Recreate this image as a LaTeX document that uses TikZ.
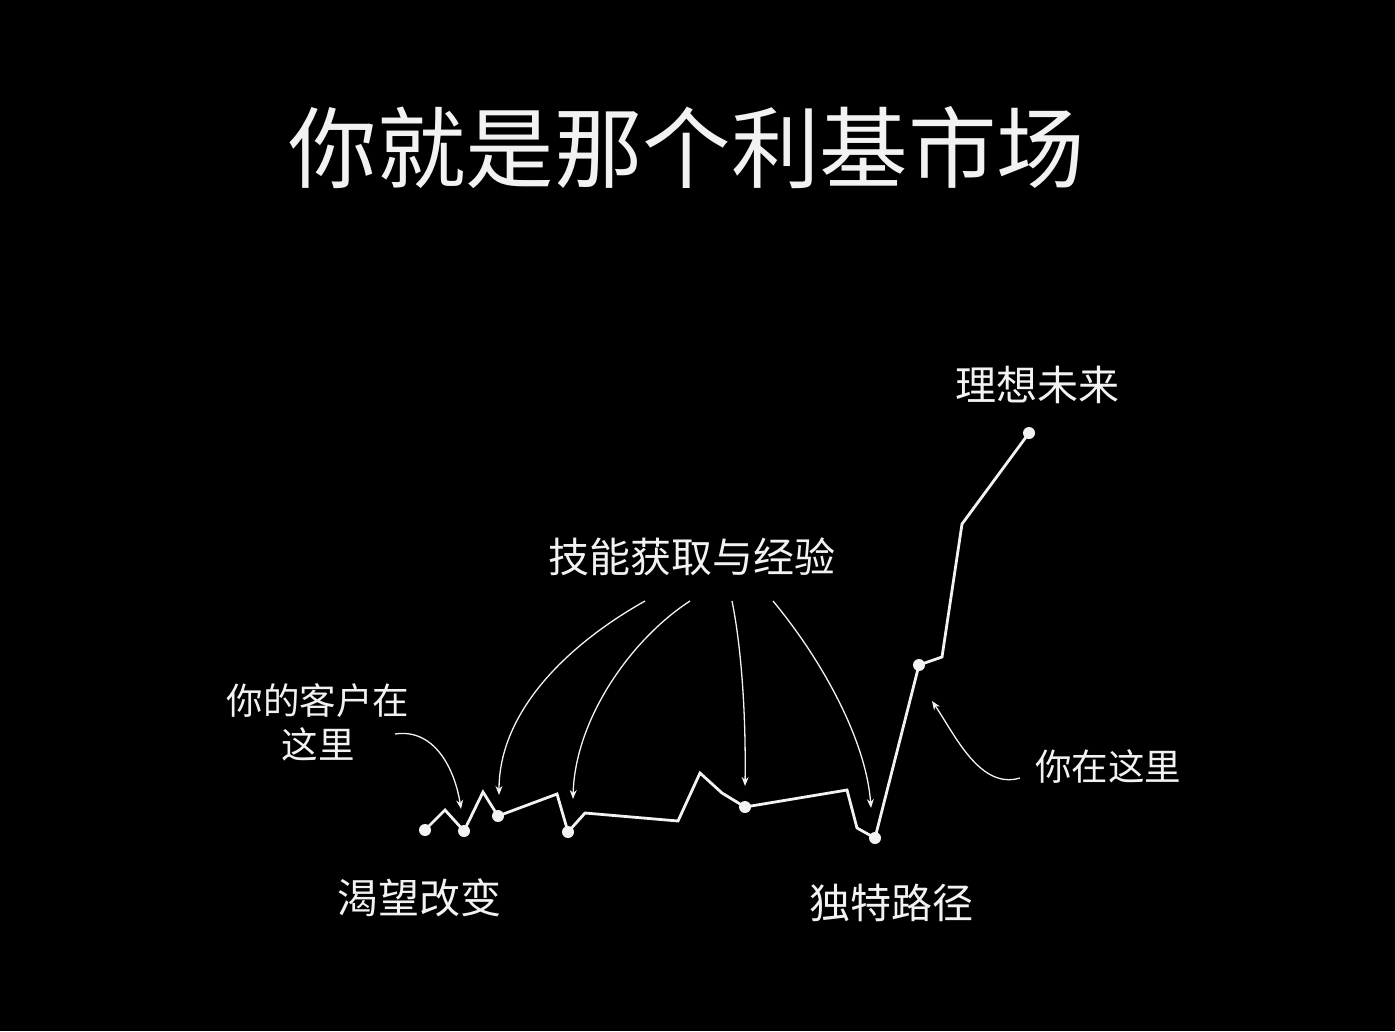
\documentclass[tikz,border=0pt]{standalone}
\usepackage{fontspec}
\setmainfont{Noto Sans CJK SC}
\usetikzlibrary{arrows.meta}
\definecolor{ink}{HTML}{F2F2F2}
\begin{document}
\begin{tikzpicture}[x=1pt,y=-1pt,
  pathline/.style={draw=ink,line width=2.8pt,line join=miter,line cap=round},
  dotmark/.style={fill=ink,draw=none},
  pointer/.style={draw=ink,line width=1.3pt,-{Stealth[length=9pt,width=7pt]}},
  lbl/.style={text=ink,inner sep=0pt,anchor=center},
  title/.style={lbl,font=\fontsize{88.5}{94}\selectfont},
  big/.style={lbl,font=\fontsize{41}{45}\selectfont},
  small/.style={lbl,font=\fontsize{36.5}{40}\selectfont,align=center}
]
\fill[black] (0,0) rectangle (1395,1031);
\useasboundingbox (0,0) rectangle (1395,1031);

% texts
\node[title] (t) at (687,148) {你就是那个利基市场};
\node[big] (ideal) at (1037,385) {理想未来};
\node[big] (skill) at (692,557) {技能获取与经验};
\node[small] (cust) at (318,722) {你的客户在\\[4pt]这里};
\node[small] (here) at (1108,767) {你在这里};
\node[big] (want) at (419,898) {渴望改变};
\node[big] (uniq) at (891,903) {独特路径};

% path points
\coordinate (p1) at (425,830);
\coordinate (q1) at (445,810);
\coordinate (p2) at (464,831);
\coordinate (q2) at (483,792);
\coordinate (p3) at (498,816);
\coordinate (q3) at (557,794);
\coordinate (p4) at (568,832);
\coordinate (q4) at (585,813);
\coordinate (q5) at (678,821);
\coordinate (q6) at (700,773);
\coordinate (q7) at (722,793);
\coordinate (p5) at (745,807);
\coordinate (q8) at (847,790);
\coordinate (q9) at (857,828);
\coordinate (p6) at (875,838);
\coordinate (p7) at (919,665);
\coordinate (q10) at (942,657);
\coordinate (q11) at (962,524);
\coordinate (p8) at (1029,433);

\draw[pathline] (p1) -- (q1) -- (p2) -- (q2) -- (p3) -- (q3) -- (p4) -- (q4) -- (q5) -- (q6) -- (q7) -- (p5) -- (q8) -- (q9) -- (p6) -- (p7) -- (q10) -- (q11) -- (p8);

\foreach \d in {p1,p2,p3,p4,p5,p6,p7,p8}
  \fill[dotmark] (\d) circle (6pt);

% arrow start points
\coordinate (s1) at (645,601);
\coordinate (s2) at (690,601);
\coordinate (s3) at (732,601);
\coordinate (s4) at (773,601);
\coordinate (sc) at (395,734);
\coordinate (sh) at (1020,778);
\coordinate (e1) at (499,795);
\coordinate (e2) at (573,799);
\coordinate (e3) at (745,786);
\coordinate (e4) at (871,808);
\coordinate (ec) at (461,809);
\coordinate (eh) at (932,701);

\draw[pointer] (s1) .. controls (565,646) and (499,713) .. (e1);
\draw[pointer] (s2) .. controls (630,640) and (575,720) .. (e2);
\draw[pointer] (s3) .. controls (742,650) and (746,720) .. (e3);
\draw[pointer] (s4) .. controls (822,660) and (866,740) .. (e4);
\draw[pointer] (sc) .. controls (435,728) and (455,770) .. (ec);
\draw[pointer] (sh) .. controls (980,790) and (955,735) .. (eh);
\end{tikzpicture}
\end{document}
